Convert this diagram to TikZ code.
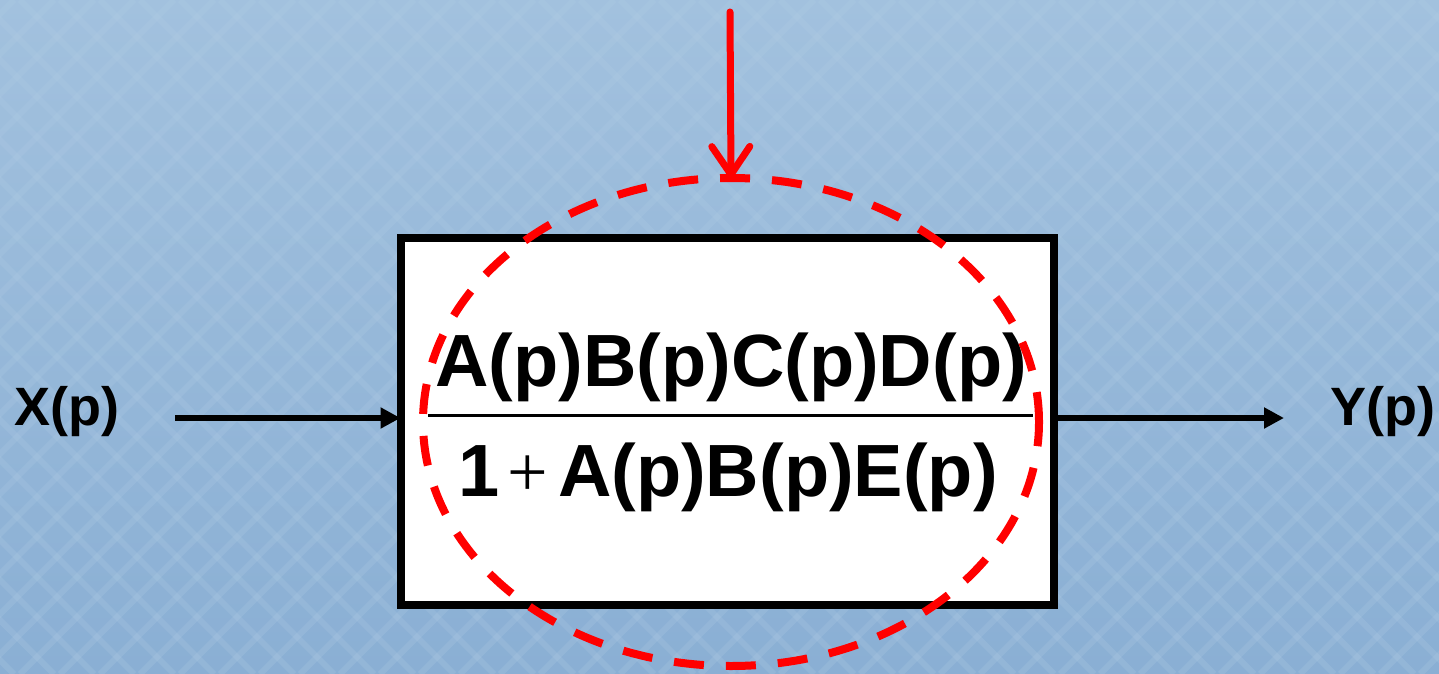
\documentclass[tikz,border=0pt]{standalone}
\usepackage{fontspec}
\setmainfont{Liberation Sans}
\newfontfamily\plusfont{Liberation Serif}
\usetikzlibrary{arrows.meta,shapes.geometric}
\definecolor{bgtop}{HTML}{A2C1DE}
\definecolor{bgbot}{HTML}{8AAFD4}
\definecolor{hatch}{HTML}{B4CFE6}
\definecolor{redline}{HTML}{FF0000}
\tikzset{
  blockbox/.style={draw=black, fill=white, line width=8pt, rectangle,
    minimum width=653pt, minimum height=367pt, inner sep=0pt, outer sep=0pt},
  ringmark/.style={draw=redline, line width=8pt, ellipse, dash pattern=on 30pt off 22pt,
    minimum width=616pt, minimum height=488pt, inner sep=0pt, outer sep=0pt},
  sigarrow/.style={draw=black, line width=5.5pt, -{Triangle[length=20pt,width=20pt]}},
  redarrow/.style={draw=redline, line width=7pt, line cap=round,
    -{Straight Barb[length=28pt,width=38pt,round]}},
  siglabel/.style={font=\bfseries\fontsize{54}{60}\selectfont, inner sep=0pt},
  fractext/.style={font=\bfseries\fontsize{74}{80}\selectfont, inner sep=0pt, anchor=base},
}
\begin{document}
\begin{tikzpicture}[x=1pt,y=-1pt]
\useasboundingbox (0,0) rectangle (1439,674);
\shade[top color=bgtop, bottom color=bgbot] (0,0) rectangle (1439,674);
\begin{scope}
\clip (0,0) rectangle (1439,674);
\foreach \k in {-700,-660,...,1440}{
  \draw[hatch, opacity=0.22, line width=6pt] (\k,0) -- ++(674,674);
  \draw[hatch, opacity=0.22, line width=6pt] (\k+674,0) -- ++(-674,674);
}
\end{scope}
% block
\node[blockbox] (box) at (727,421) {};
% fraction
\node[fractext] (num) at (731,386) {A(p)B(p)C(p)D(p)};
\node[fractext] (den) at (728,496) {1\hspace{8pt}{\plusfont\mdseries\fontsize{72}{72}\selectfont +}\hspace{10pt}A(p)B(p)E(p)};
\coordinate (barl) at (428,415);
\coordinate (barr) at (1033,415);
\draw[line width=3pt] (barl) -- (barr);
% dashed ellipse
\node[ringmark] (ell) at (731,422) {};
% red arrow
\coordinate (rtop) at (730,12);
\draw[redarrow] (rtop) -- (ell.north);
% input/output
\node[siglabel] (xin) at (67,412) {X(p)};
\node[siglabel] (yout) at (1383,412) {Y(p)};
\coordinate (xs) at (175,418);
\coordinate (ye) at (1284,418);
\draw[sigarrow] (xs) -- (box.west |- xs);
\draw[sigarrow] (box.east |- ye) -- (ye);
\end{tikzpicture}
\end{document}
